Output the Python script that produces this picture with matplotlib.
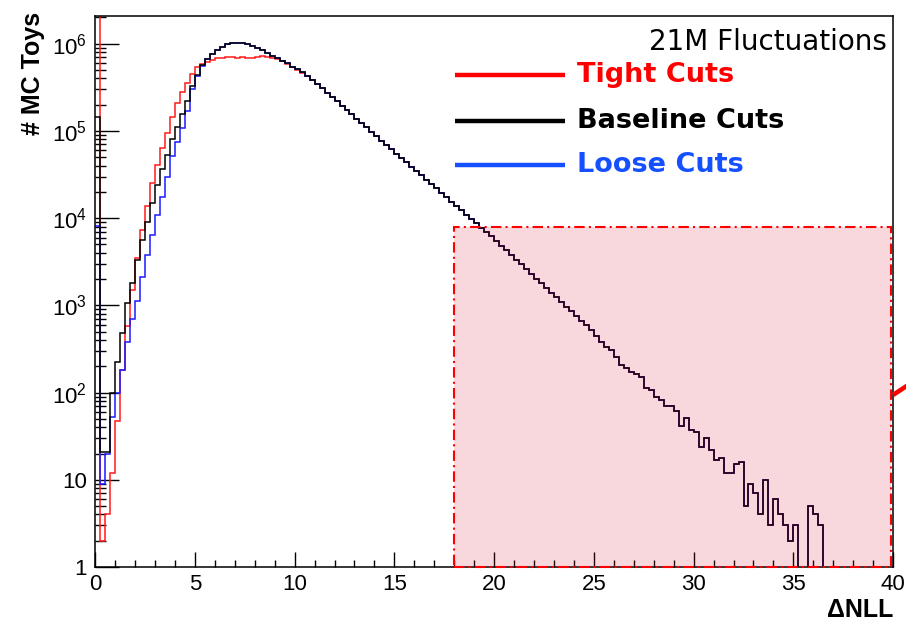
import matplotlib
matplotlib.use("Agg")
import matplotlib.pyplot as plt
import numpy as np
from matplotlib.patches import Rectangle
from matplotlib.lines import Line2D
from matplotlib.ticker import MultipleLocator, FixedLocator, FuncFormatter, NullFormatter

plt.rcParams['font.family'] = ['Liberation Sans', 'DejaVu Sans']
plt.rcParams['mathtext.default'] = 'regular'

# Histogram binning: 160 bins of 0.25 between 0 and 40
bin_width = 0.25
x_max = 40.0

# Counts per bin, x = 0 ... 10.75 (series differ here)
tight_head = [5e6, 2, 4, 12, 47, 181, 580, 1500, 3470, 7400,
              13800, 25000, 40700, 63300, 94000, 143000, 211000, 283000, 355000, 450000,
              547000, 582000, 624000, 658000, 681000, 693000, 700000, 700000, 693000, 700000,
              693000, 681000, 711000, 731000, 705000, 693000, 664000, 630000, 590000, 545000,
              505000, 465000, 425000, 380000]
baseline_head = [145000, 21, 21, 100, 226, 486, 1060, 1790, 3320, 5630,
                 9120, 14800, 24000, 37000, 53000, 80000, 112000, 157000, 222000, 325000,
                 443000, 571000, 664000, 757000, 849000, 927000, 995000, 1020000, 1020000, 1010000,
                 986000, 935000, 887000, 841000, 778000, 725000, 681000, 641000, 597000, 547000,
                 514000, 471000, 431000, 385000]
loose_head = [8100, 9, 20, 53, 100, 181, 383, 690, 1130, 2140,
              3790, 6420, 10900, 17700, 29900, 51000, 75000, 107000, 170000, 300000,
              427000, 560000, 660000, 757000, 849000, 927000, 995000, 1020000, 1020000, 1010000,
              986000, 935000, 887000, 841000, 778000, 725000, 681000, 641000, 597000, 547000,
              514000, 471000, 431000, 385000]
# Counts per bin, x = 11.0 ... 39.75 (all three overlap)
shared_tail = [347000, 309000, 275000, 245000, 219000, 195000, 174000, 155000, 138000, 123000,
               110000, 97700, 87100, 77600, 69200, 61700, 55000, 49000, 43700, 38900,
               34700, 30900, 27500, 24500, 21900, 19500, 17400, 15500, 13800, 12300,
               11000, 9770, 8710, 7760, 6920, 6170, 5470, 4830, 4270, 3780,
               3340, 2950, 2600, 2300, 2030, 1800, 1590, 1400, 1240, 1100,
               968, 855, 755, 667, 590, 521, 440,
               384, 336, 308, 258, 207, 190, 174, 163, 152, 112,
               107, 90, 82, 70, 70, 62, 41, 51, 37, 35,
               24, 30, 22, 17, 18, 12, 12, 15, 16, 5,
               9, 7, 4, 10, 3, 6, 4, 3, 2, 3,
               0, 0, 5, 4, 3,
               0, 0, 0, 0, 0, 0, 0, 0, 0, 0, 0, 0, 0, 0]

series_names = ["Tight Cuts", "Baseline Cuts", "Loose Cuts"]
y_decades = [1, 10, 1e2, 1e3, 1e4, 1e5, 1e6]

# signal-like region box
box_x = [18.0, 39.9]
box_y = [1.0, 7900.0]

edges = np.arange(0, x_max + bin_width / 2, bin_width)
tight = np.array(tight_head + shared_tail, dtype=float)
baseline = np.array(baseline_head + shared_tail, dtype=float)
loose = np.array(loose_head + shared_tail, dtype=float)

fig = plt.figure(figsize=(9.06, 6.23), dpi=100)
ax = fig.add_axes([0.105, 0.0899, 0.8808, 0.8844])
ax.set_yscale('log', nonpositive='clip')

ax.stairs(tight, edges, baseline=None, color='#ff1a1a', lw=1.1, zorder=2)
ax.stairs(loose, edges, baseline=None, color='#1a1aff', lw=1.1, zorder=2.1)
ax.stairs(baseline, edges, baseline=None, color='black', lw=1.1, zorder=2.2)

ax.add_patch(Rectangle((box_x[0], box_y[0]), box_x[1] - box_x[0], box_y[1] - box_y[0],
                       facecolor=(0.85, 0.1, 0.2, 0.17), edgecolor='none', zorder=3))
ax.add_patch(Rectangle((box_x[0], box_y[0]), box_x[1] - box_x[0], box_y[1] - box_y[0],
                       facecolor='none', edgecolor='#ff0000', lw=1.5,
                       linestyle=(0, (5, 2, 1, 2)), zorder=4, clip_on=False))
# arrow stub leaving the box on the right
ax.plot([box_x[1] + 0.1, 40.7], [94, 120], color='#ff0000', lw=3.3,
        solid_capstyle='butt', clip_on=False, zorder=5)

ax.set_xlim(0, x_max)
ax.set_ylim(1, 2.08e6)

ax.xaxis.set_major_locator(MultipleLocator(5))
ax.xaxis.set_minor_locator(MultipleLocator(1))
ax.yaxis.set_major_locator(FixedLocator(y_decades))
ax.yaxis.set_minor_locator(FixedLocator([m * d for d in y_decades for m in range(2, 10)
                                         if m * d < 2.08e6]))
ax.yaxis.set_minor_formatter(NullFormatter())


def ylab(v, pos):
    e = int(round(np.log10(v)))
    if e == 0:
        return "1"
    if e == 1:
        return "10"
    return "10$^{%d}$" % e


ax.yaxis.set_major_formatter(FuncFormatter(ylab))
ax.tick_params(axis='both', which='both', direction='in', top=False, right=False, width=1.0)
ax.tick_params(axis='x', which='major', length=11, pad=5, labelsize=16)
ax.tick_params(axis='x', which='minor', length=5)
ax.tick_params(axis='y', which='major', length=17, pad=6, labelsize=16)
ax.tick_params(axis='y', which='minor', length=8)
for s in ax.spines.values():
    s.set_linewidth(1.1)

fig.text(33 / 906, 1 - 12 / 623, "# MC Toys", rotation=90, ha='center', va='top',
         fontsize=18, fontweight='bold')
fig.text(893 / 906, 1 - 610 / 623, "\u0394NLL", ha='right', va='center',
         fontsize=18, fontweight='bold')

# legend
ax.text(0.9925, 0.9528, "21M Fluctuations", transform=ax.transAxes, ha='right', va='center',
        fontsize=20, family='DejaVu Sans')
leg_colors = ['#ff0000', '#000000', '#1450ff']
leg_y = [0.893, 0.8094, 0.7296]
for name, c, yy in zip(series_names, leg_colors, leg_y):
    ax.add_line(Line2D([0.451, 0.589], [yy, yy], transform=ax.transAxes, color=c, lw=3.2,
                       solid_capstyle='butt'))
    ax.text(0.604, yy, name, transform=ax.transAxes, ha='left', va='center', color=c,
            fontsize=19.5, fontweight='bold', family='DejaVu Sans')

fig.savefig("out.png", dpi=100)
